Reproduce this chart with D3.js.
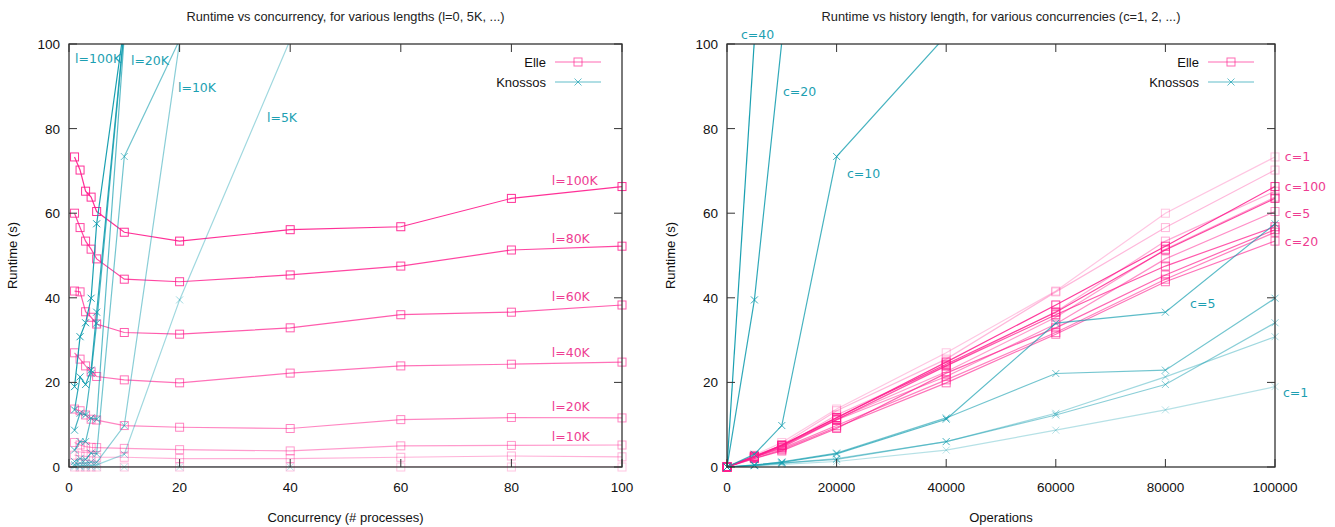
<!DOCTYPE html>
<html>
<head>
<meta charset="utf-8">
<script src="https://cdn.jsdelivr.net/npm/d3@7"></script>
<style>
  body { margin: 0; background: #fff; }
  text { font-family: "Liberation Sans", Arial, sans-serif; }
  .note { font-family: "DejaVu Sans", sans-serif; font-size: 12.5px; }
</style>
</head>
<body>
<svg id="chart" width="1335" height="527"></svg>
<script>
// history lengths (ops) and concurrencies (# processes)
const lengths = [0, 5000, 10000, 20000, 40000, 60000, 80000, 100000];
const concurrencies = [1, 2, 3, 4, 5, 10, 20, 40, 60, 80, 100];
const knossosConcurrencies = [1, 2, 3, 4, 5, 10, 20, 40];

// Elle runtime (s), one array per length, indexed by concurrency
const elle0 = [0, 0, 0, 0, 0, 0, 0, 0, 0, 0, 0];
const elle5K = [2.8, 2.6, 2.5, 2.4, 2.3, 2.3, 2.0, 2.0, 2.3, 2.6, 2.4];
const elle10K = [5.8, 5.2, 4.8, 4.65, 4.6, 4.4, 4.1, 3.8, 5.0, 5.1, 5.2];
const elle20K = [13.7, 13.3, 12.3, 11.3, 11.1, 9.8, 9.4, 9.1, 11.2, 11.7, 11.6];
const elle40K = [27.0, 25.5, 23.9, 22.5, 21.4, 20.6, 19.9, 22.2, 23.9, 24.3, 24.8];
const elle60K = [41.6, 41.4, 36.7, 35.4, 33.8, 31.8, 31.4, 32.9, 36.0, 36.6, 38.3];
const elle80K = [60.0, 56.6, 53.4, 51.5, 49.2, 44.4, 43.8, 45.4, 47.5, 51.3, 52.2];
const elle100K = [73.3, 70.2, 65.2, 63.8, 60.4, 55.5, 53.4, 56.1, 56.8, 63.5, 66.3];
const elleByLength = [elle0, elle5K, elle10K, elle20K, elle40K, elle60K, elle80K, elle100K];

// Knossos runtime (s), one array per length, indexed by knossosConcurrencies
const knossos0 = [0, 0, 0, 0, 0, 0, 0, 0];
const knossos5K = [0.3, 0.3, 0.4, 0.4, 0.5, 3.0, 39.5, 101];
const knossos10K = [0.6, 0.9, 0.9, 1.2, 1.1, 9.8, 100.5, null];
const knossos20K = [1.3, 2.0, 1.8, 3.3, 3.1, 73.4, 101, null];
const knossos40K = [4.0, 6.0, 6.0, 11.6, 11.3, 102, null, null];
const knossos60K = [8.7, 12.7, 12.3, 22.1, 34.0, 103.5, null, null];
const knossos80K = [13.5, 21.3, 19.5, 22.9, 36.6, 104, null, null];
const knossos100K = [19.0, 30.8, 34.1, 39.9, 57.5, 104.5, null, null];
const knossosByLength = [knossos0, knossos5K, knossos10K, knossos20K, knossos40K, knossos60K, knossos80K, knossos100K];

const yTicks = [0, 20, 40, 60, 80, 100];
const xTicksLeft = [0, 20, 40, 60, 80, 100];
const xTicksRight = [0, 20000, 40000, 60000, 80000, 100000];

// curve labels: [text, x, y] in data units
const leftElleNotes = [["l=100K", 87.3, 67.8], ["l=80K", 87.3, 54.0], ["l=60K", 87.3, 40.2],
                       ["l=40K", 87.3, 27.0], ["l=20K", 87.3, 14.4], ["l=10K", 87.3, 7.1]];
const leftKnossosNotes = [["l=100K", 1.1, 96.6], ["l=20K", 11.2, 96.0], ["l=10K", 19.7, 89.6], ["l=5K", 35.8, 82.7]];
const rightElleNotes = [["c=1", 101800, 73.3], ["c=100", 101800, 66.2], ["c=5", 101800, 59.9], ["c=20", 101800, 53.3]];
const rightKnossosNotes = [["c=40", 2550, 102.2], ["c=20", 10200, 88.8], ["c=10", 21900, 69.3],
                           ["c=5", 84500, 38.7], ["c=1", 101450, 17.7]];

const elleColor = "#ff1a8c";
const knossosColor = "#0e9bad";
const elleText = "#ee3d92";
const knossosText = "#1d9fb2";

const svg = d3.select("#chart");
const plotTop = 44, plotBottom = 467;

function drawPanel(p) {
  const x = d3.scaleLinear().domain(p.xDomain).range([p.left, p.right]);
  const y = d3.scaleLinear().domain([0, 100]).range([plotBottom, plotTop]);
  const g = svg.append("g");
  const clipId = "clip" + p.id;
  svg.append("clipPath").attr("id", clipId).append("rect")
    .attr("x", p.left).attr("y", plotTop).attr("width", p.right - p.left).attr("height", plotBottom - plotTop);

  // title
  g.append("text").attr("x", (p.left + p.right) / 2).attr("y", 21)
    .attr("text-anchor", "middle").attr("font-size", 12.8).attr("fill", "#222").text(p.title);

  const line = d3.line().defined(d => d[1] != null).x(d => x(d[0])).y(d => y(d[1]));

  function series(data, color, op, marker) {
    g.append("path").attr("d", line(data)).attr("clip-path", `url(#${clipId})`)
      .attr("fill", "none").attr("stroke", color).attr("stroke-opacity", op).attr("stroke-width", 1.2);
    const pts = data.filter(d => d[1] != null && d[1] <= 100);
    pts.forEach(d => drawMarker(g, x(d[0]), y(d[1]), color, op, marker));
  }

  p.elle.forEach((s, i) => series(s, elleColor, p.elleOpacity(i), "square"));
  p.knossos.forEach((s, i) => series(s, knossosColor, p.knossosOpacity(i), "cross"));

  // frame and ticks (inward, mirrored)
  const axisColor = "#333";
  g.append("rect").attr("x", p.left).attr("y", plotTop).attr("width", p.right - p.left).attr("height", plotBottom - plotTop)
    .attr("fill", "none").attr("stroke", axisColor).attr("stroke-width", 1.3);
  yTicks.forEach(t => {
    g.append("line").attr("x1", p.left).attr("x2", p.left + 8).attr("y1", y(t)).attr("y2", y(t)).attr("stroke", axisColor);
    g.append("line").attr("x1", p.right).attr("x2", p.right - 8).attr("y1", y(t)).attr("y2", y(t)).attr("stroke", axisColor);
    g.append("text").attr("x", p.left - 9).attr("y", y(t) + 5).attr("text-anchor", "end")
      .attr("font-size", 13.5).attr("fill", "#111").text(t);
  });
  p.xTicks.forEach(t => {
    g.append("line").attr("x1", x(t)).attr("x2", x(t)).attr("y1", plotBottom).attr("y2", plotBottom - 8).attr("stroke", axisColor);
    g.append("line").attr("x1", x(t)).attr("x2", x(t)).attr("y1", plotTop).attr("y2", plotTop + 8).attr("stroke", axisColor);
    g.append("text").attr("x", x(t)).attr("y", 492).attr("text-anchor", "middle")
      .attr("font-size", 13.5).attr("fill", "#111").text(t);
  });

  // axis labels
  g.append("text").attr("transform", `translate(${p.left - 52},${(plotTop + plotBottom) / 2}) rotate(-90)`)
    .attr("text-anchor", "middle").attr("font-size", 13).attr("fill", "#111").text("Runtime (s)");
  g.append("text").attr("x", (p.left + p.right) / 2).attr("y", 522).attr("text-anchor", "middle")
    .attr("font-size", 13).attr("fill", "#111").text(p.xLabel);

  // curve notes
  p.elleNotes.forEach(n => g.append("text").attr("class", "note").attr("x", x(n[1])).attr("y", y(n[2]) + 4.5)
    .attr("fill", elleText).text(n[0]));
  p.knossosNotes.forEach(n => g.append("text").attr("class", "note").attr("x", x(n[1])).attr("y", y(n[2]) + 4.5)
    .attr("fill", knossosText).text(n[0]));

  // legend
  const lx = p.right - 67, lines = [["Elle", elleColor, "square", 62], ["Knossos", knossosColor, "cross", 82]];
  lines.forEach(([name, color, marker, ly]) => {
    g.append("text").attr("x", lx - 9).attr("y", ly + 4.5).attr("text-anchor", "end")
      .attr("font-size", 13).attr("fill", "#111").text(name);
    g.append("line").attr("x1", lx).attr("x2", lx + 46).attr("y1", ly).attr("y2", ly)
      .attr("stroke", color).attr("stroke-opacity", 0.65).attr("stroke-width", 1.2);
    drawMarker(g, lx + 23, ly, color, 0.65, marker);
  });
}

function drawMarker(g, cx, cy, color, op, marker) {
  if (marker === "square") {
    g.append("rect").attr("x", cx - 4).attr("y", cy - 4).attr("width", 8).attr("height", 8)
      .attr("fill", "none").attr("stroke", color).attr("stroke-opacity", op).attr("stroke-width", 1);
  } else {
    g.append("path").attr("d", `M${cx - 3.5},${cy - 3.5}L${cx + 3.5},${cy + 3.5}M${cx - 3.5},${cy + 3.5}L${cx + 3.5},${cy - 3.5}`)
      .attr("stroke", color).attr("stroke-opacity", op).attr("stroke-width", 1);
  }
}

// left panel: one curve per length, x = concurrency
drawPanel({
  id: "L", left: 69, right: 622, xDomain: [0, 100], xTicks: xTicksLeft,
  title: "Runtime vs concurrency, for various lengths (l=0, 5K, ...)",
  xLabel: "Concurrency (# processes)",
  elle: elleByLength.map(arr => concurrencies.map((c, i) => [c, arr[i]])),
  knossos: knossosByLength.map(arr => knossosConcurrencies.map((c, i) => [c, arr[i]])),
  elleOpacity: i => 0.25 + 0.65 * i / 7,
  knossosOpacity: i => 0.3 + 0.65 * i / 7,
  elleNotes: leftElleNotes, knossosNotes: leftKnossosNotes
});

// right panel: one curve per concurrency, x = history length
drawPanel({
  id: "R", left: 727, right: 1275, xDomain: [0, 100000], xTicks: xTicksRight,
  title: "Runtime vs history length, for various concurrencies (c=1, 2, ...)",
  xLabel: "Operations",
  elle: concurrencies.map((c, j) => lengths.map((l, i) => [l, elleByLength[i][j]])),
  knossos: knossosConcurrencies.map((c, j) => lengths.map((l, i) => [l, knossosByLength[i][j]])),
  elleOpacity: i => 0.25 + 0.6 * i / 10,
  knossosOpacity: i => 0.3 + 0.65 * i / 7,
  elleNotes: rightElleNotes, knossosNotes: rightKnossosNotes
});
</script>
</body>
</html>
